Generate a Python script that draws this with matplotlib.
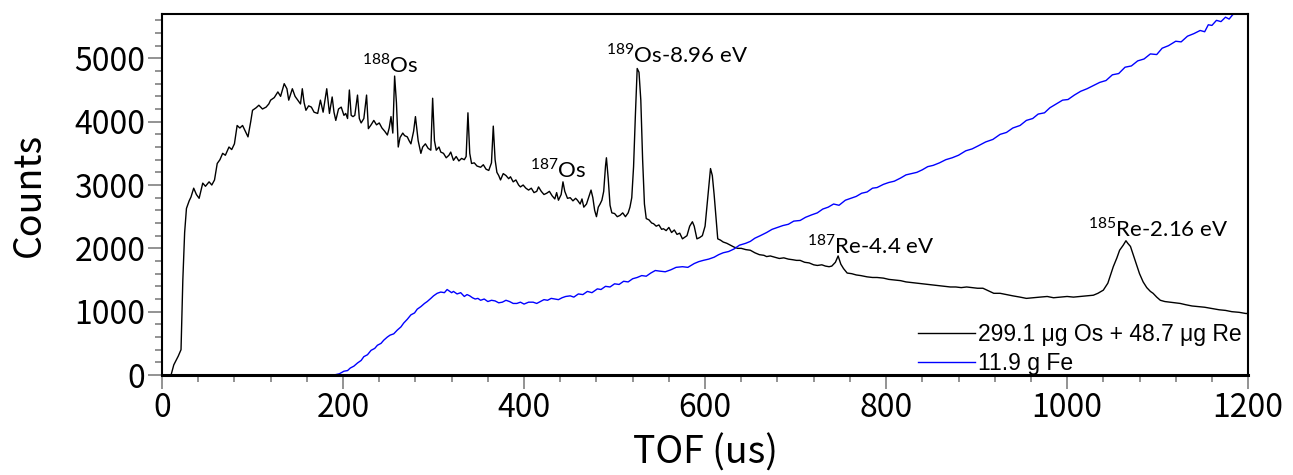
import numpy as np
import matplotlib.pyplot as plt
from matplotlib.ticker import MultipleLocator

# Black curve: 299.1 ug Os + 48.7 ug Re (TOF in us, counts)
tof_os = [0, 10, 13, 18, 21, 23, 25, 27, 30, 32, 35, 38, 41, 45, 48, 52, 55, 58, 61, 64,
          67, 70, 74, 77, 80, 83, 86, 89, 92, 95, 98, 100, 104, 107, 111, 115, 118, 120, 124, 128,
          131, 135, 138, 140, 144, 147, 150, 153, 155, 157, 159, 162, 165, 168, 172, 175, 178, 182, 185, 188,
          190, 192, 195, 198, 201, 203, 205, 207, 209, 211, 213, 216, 218, 220, 223, 226, 228, 231, 234, 237,
          240, 243, 246, 249, 251, 253, 255, 257, 259, 261, 263, 266, 268, 271, 273, 275, 278, 280, 283, 286,
          288, 291, 294, 297, 299, 301, 303, 306, 308, 311, 314, 317, 319, 322, 325, 328, 331, 334, 336, 338,
          340, 342, 345, 348, 352, 355, 358, 361, 364, 366, 368, 370, 372, 374, 377, 380, 383, 385, 388, 391,
          394, 396, 399, 402, 405, 408, 411, 414, 416, 419, 422, 425, 428, 431, 434, 436, 438, 441, 443, 445,
          448, 451, 454, 457, 459, 462, 464, 466, 469, 472, 474, 476, 478, 480, 482, 484, 486, 488, 490, 491,
          493, 495, 497, 500, 503, 506, 509, 512, 515, 517, 519, 521, 523, 525, 527, 529, 531, 533, 535, 538,
          541, 543, 546, 549, 552, 554, 557, 560, 563, 566, 569, 572, 575, 577, 580, 583, 586, 588, 591, 594,
          597, 600, 603, 606, 608, 610, 612, 614, 617, 620, 624, 628, 632, 636, 640, 645, 650, 655, 660, 665,
          668, 672, 677, 682, 687, 692, 697, 701, 705, 710, 715, 720, 724, 729, 733, 737, 740, 744, 747, 750,
          753, 757, 762, 767, 772, 779, 785, 790, 797, 803, 810, 816, 822, 828, 834, 840, 846, 852, 858, 864,
          871, 877, 883, 889, 895, 901, 907, 913, 919, 926, 933, 940, 948, 955, 962, 970, 978, 985, 992, 1000,
          1007, 1014, 1021, 1029, 1034, 1040, 1045, 1051, 1055, 1058, 1062, 1065, 1067, 1070, 1073, 1077, 1080, 1084, 1088, 1092,
          1095, 1099, 1103, 1108, 1114, 1120, 1125, 1131, 1138, 1145, 1152, 1160, 1168, 1175, 1182, 1190, 1198, 1200]
counts_os = [0, 0, 160, 300, 400, 1500, 2250, 2630, 2750, 2810, 2950, 2850, 2790, 3030, 2980, 3050, 3000, 3080, 3340, 3400,
             3500, 3470, 3600, 3560, 3650, 3940, 3900, 3940, 3850, 3760, 4000, 4180, 4220, 4260, 4200, 4230, 4280, 4340, 4380, 4470,
             4400, 4600, 4520, 4340, 4520, 4400, 4340, 4280, 4520, 4300, 4180, 4250, 4230, 4150, 4130, 4340, 4150, 4520, 4130, 4390,
             4150, 4020, 4200, 4230, 4100, 4130, 4050, 4500, 4100, 4080, 4100, 4420, 4050, 3980, 4050, 4420, 3890, 3950, 4020, 3950,
             3980, 3900, 3850, 3790, 3900, 4080, 3820, 4720, 4300, 3600, 3750, 3820, 3780, 3760, 3700, 3650, 3850, 4080, 3700, 3500,
             3600, 3650, 3580, 3550, 4370, 3700, 3550, 3600, 3520, 3500, 3430, 3470, 3520, 3390, 3450, 3380, 3420, 3400, 3450, 4140,
             3500, 3340, 3350, 3300, 3280, 3320, 3250, 3230, 3350, 3930, 3400, 3200, 3150, 3080, 3180, 3150, 3100, 3130, 3050, 3080,
             3000, 2970, 3000, 2950, 2920, 2950, 2880, 2900, 2970, 2900, 2850, 2870, 2900, 2830, 2780, 2880, 2760, 2850, 3050, 2900,
             2790, 2800, 2750, 2790, 2760, 2700, 2780, 2650, 2700, 2830, 2920, 2800, 2600, 2500, 2650, 2700, 2760, 2900, 3300, 3430,
             3100, 2680, 2560, 2550, 2500, 2520, 2560, 2500, 2560, 2650, 2800, 3290, 4100, 4840, 4780, 4340, 3400, 2700, 2470, 2450,
             2400, 2390, 2350, 2370, 2300, 2310, 2280, 2330, 2250, 2290, 2220, 2240, 2150, 2170, 2200, 2350, 2420, 2350, 2150, 2170,
             2200, 2350, 2800, 3260, 3150, 2850, 2500, 2150, 2130, 2100, 2080, 2050, 2020, 2000, 2000, 1980, 1970, 1930, 1900, 1890,
             1870, 1880, 1860, 1840, 1850, 1830, 1820, 1810, 1810, 1780, 1770, 1740, 1730, 1740, 1720, 1710, 1720, 1780, 1880, 1750,
             1680, 1610, 1600, 1580, 1570, 1550, 1540, 1540, 1530, 1510, 1500, 1490, 1470, 1460, 1450, 1440, 1430, 1420, 1410, 1400,
             1390, 1390, 1380, 1390, 1380, 1370, 1370, 1330, 1290, 1290, 1270, 1250, 1230, 1210, 1220, 1230, 1240, 1220, 1230, 1240,
             1230, 1240, 1250, 1260, 1290, 1340, 1450, 1710, 1850, 1970, 2050, 2120, 2080, 2030, 1900, 1730, 1600, 1470, 1380, 1320,
             1290, 1230, 1180, 1160, 1150, 1140, 1130, 1110, 1090, 1080, 1070, 1050, 1030, 1020, 1000, 990, 970, 980]

# Blue curve: 11.9 g Fe
tof_fe = [0, 190, 196, 201, 205, 208, 212, 216, 220, 223, 227, 231, 235, 238, 242, 245, 249, 252, 256, 260,
          264, 267, 271, 275, 279, 282, 286, 290, 293, 297, 300, 304, 308, 312, 315, 317, 320, 322, 326, 330,
          334, 337, 340, 343, 346, 349, 352, 356, 360, 364, 368, 372, 376, 380, 384, 388, 392, 396, 400, 405,
          410, 414, 418, 422, 426, 430, 434, 438, 442, 446, 451, 455, 460, 465, 470, 475, 481, 485, 490, 495,
          500, 505, 510, 515, 520, 525, 530, 535, 540, 545, 550, 556, 562, 568, 575, 581, 588, 593, 598, 604,
          610, 615, 620, 626, 632, 638, 645, 650, 655, 661, 668, 674, 680, 686, 692, 698, 705, 711, 718, 724,
          730, 736, 742, 748, 755, 761, 767, 773, 779, 785, 790, 797, 803, 809, 816, 822, 828, 834, 840, 846,
          852, 859, 866, 873, 880, 888, 895, 902, 910, 918, 926, 933, 940, 948, 955, 962, 968, 975, 981, 988,
          995, 1001, 1008, 1015, 1022, 1029, 1036, 1043, 1050, 1057, 1064, 1071, 1078, 1085, 1092, 1099, 1105, 1112, 1120, 1126,
          1133, 1140, 1147, 1152, 1156, 1160, 1165, 1170, 1175, 1179, 1183, 1188, 1192, 1196, 1200]
counts_fe = [0, 0, 20, 60, 70, 110, 140, 190, 230, 290, 320, 390, 420, 470, 500, 550, 600, 630, 650, 710,
             760, 820, 880, 950, 980, 1040, 1080, 1130, 1160, 1210, 1250, 1290, 1310, 1300, 1350, 1330, 1300, 1320, 1280, 1300,
             1240, 1270, 1250, 1220, 1200, 1210, 1180, 1200, 1160, 1180, 1170, 1140, 1150, 1180, 1160, 1130, 1130, 1150, 1120, 1150,
             1150, 1130, 1160, 1190, 1180, 1210, 1200, 1190, 1220, 1240, 1250, 1230, 1280, 1270, 1320, 1300, 1360, 1350, 1400, 1390,
             1440, 1430, 1480, 1470, 1520, 1540, 1570, 1560, 1610, 1650, 1640, 1630, 1660, 1700, 1710, 1700, 1760, 1790, 1810, 1830,
             1860, 1900, 1930, 1950, 1990, 2050, 2080, 2110, 2160, 2200, 2250, 2300, 2330, 2360, 2380, 2430, 2440, 2490, 2530, 2560,
             2620, 2650, 2700, 2680, 2760, 2790, 2820, 2870, 2890, 2950, 2960, 3010, 3040, 3060, 3110, 3160, 3180, 3200, 3240, 3290,
             3310, 3350, 3400, 3430, 3470, 3540, 3570, 3620, 3680, 3720, 3800, 3830, 3900, 3940, 4020, 4050, 4120, 4140, 4220, 4280,
             4340, 4350, 4420, 4480, 4520, 4570, 4620, 4650, 4740, 4760, 4860, 4880, 4960, 4990, 5070, 5060, 5160, 5200, 5270, 5260,
             5350, 5390, 5440, 5420, 5530, 5520, 5600, 5580, 5650, 5620, 5690, 5720, 5740, 5700, 5700]

series_labels = ['299.1 μg Os + 48.7 μg Re', '11.9 g Fe']

# peak labels: (text, x, y)
peak_labels = [(r'$^{188}$Os', 221, 4770),
               (r'$^{189}$Os-8.96 eV', 490, 4940),
               (r'$^{187}$Os', 407, 3120),
               (r'$^{187}$Re-4.4 eV', 713, 1925),
               (r'$^{185}$Re-2.16 eV', 1023, 2180)]

plt.rcParams['mathtext.fontset'] = 'custom'
plt.rcParams['mathtext.rm'] = 'Lato'

fig = plt.figure(figsize=(12.93, 4.75), dpi=100)
ax = fig.add_axes([0.1253, 0.2105, 0.8400, 0.7600])

ax.plot(tof_os, counts_os, color='black', lw=1.0, label=series_labels[0])
ax.plot(tof_fe, counts_fe, color='blue', lw=1.0, label=series_labels[1])

ax.set_xlim(0, 1200)
ax.set_ylim(0, 5700)
ax.xaxis.set_major_locator(MultipleLocator(200))
ax.xaxis.set_minor_locator(MultipleLocator(40))
ax.yaxis.set_major_locator(MultipleLocator(1000))
ax.yaxis.set_minor_locator(MultipleLocator(200))

tick_font = 'Noto Sans CJK JP'
ax.tick_params(which='major', length=10, width=1.2, color='#808080', labelsize=23, pad=2)
ax.tick_params(which='minor', length=5, width=1.2, color='#808080')
for lab in ax.get_xticklabels() + ax.get_yticklabels():
    lab.set_family(tick_font)

for side in ['top', 'right', 'left']:
    ax.spines[side].set_linewidth(1.5)
ax.spines['bottom'].set_linewidth(2.2)

ax.set_xlabel('TOF (us)', fontsize=27, family=tick_font)
ax.xaxis.set_label_coords(0.5, -0.162)
ax.set_ylabel('Counts', fontsize=27, family=tick_font)
ax.yaxis.set_label_coords(-0.104, 0.5)

for txt, x, y in peak_labels:
    ax.text(x, y, txt, fontsize=16, family='Lato', ha='left', va='baseline')

ax.legend(loc='lower right', bbox_to_anchor=(1.0, -0.018), frameon=False,
          prop={'family': 'Liberation Sans', 'size': 16.5},
          handlelength=2.5, handletextpad=0.1, labelspacing=0.25, borderaxespad=0.1,
          borderpad=0.2)

fig.savefig('out.png', dpi=100)
